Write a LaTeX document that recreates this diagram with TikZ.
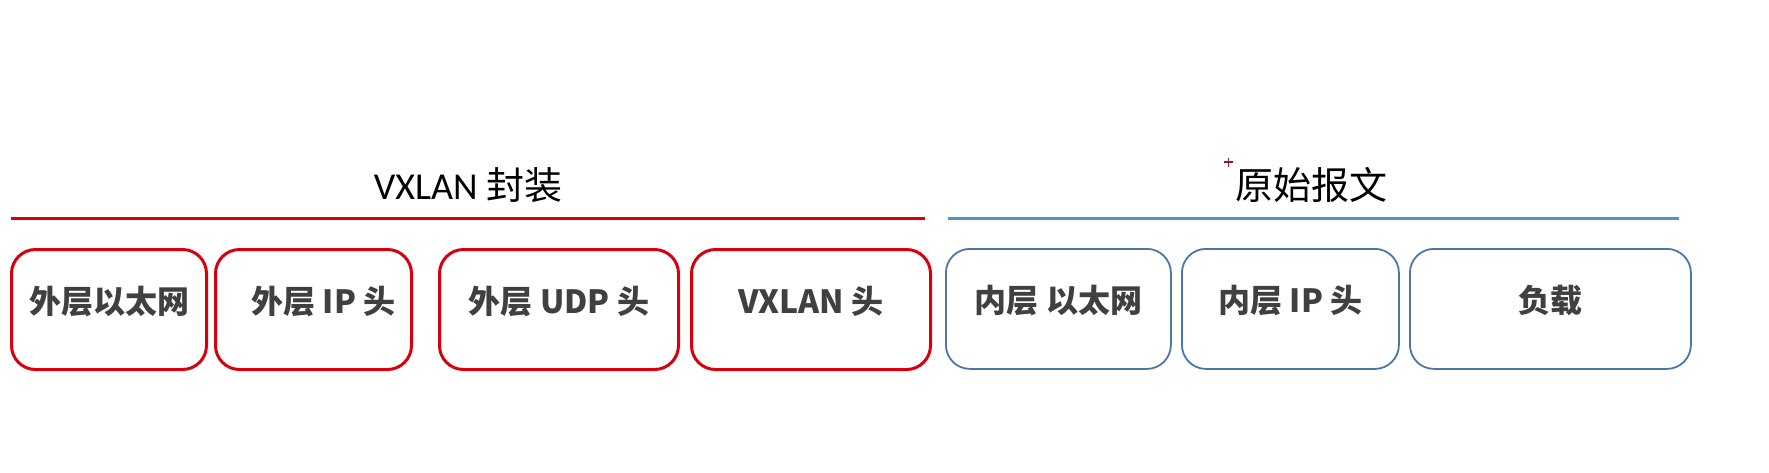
\documentclass[tikz,border=0pt]{standalone}
\usepackage{fontspec}
\setmainfont{Carlito}
\newfontfamily\cjk{Noto Sans CJK SC}
\definecolor{vred}{HTML}{D9000D}
\definecolor{lblue}{HTML}{4F94C2}
\definecolor{bblue}{HTML}{4A76A8}
\definecolor{txt}{HTML}{404040}
\definecolor{plusmark}{HTML}{8B1A3A}
\tikzset{
  pktbox/.style={rounded corners=24pt, minimum height=120pt, inner sep=0pt,
    text height=24pt, text depth=16pt,
    font=\cjk\bfseries\fontsize{32}{36}\selectfont, text=txt, anchor=north west},
  redbox/.style={pktbox, draw=vred, line width=3pt},
  bluebox/.style={pktbox, draw=bblue, line width=1.8pt},
  ttl/.style={font=\fontsize{38}{42}\selectfont, text=black, inner sep=0pt}
}
\begin{document}
\begin{tikzpicture}[x=1pt,y=-1pt]
\useasboundingbox (0,0) rectangle (1769,472);
% titles
\node[ttl] (t1) at (468,185) {VXLAN {\cjk 封装}};
\node[ttl] (t2) at (1311,185) {\cjk 原始报文};
% marker
\draw[plusmark, line width=1.4pt] (1224,162) -- (1233,162) (1228.5,157.5) -- (1228.5,166.5);
% lines
\coordinate (r1) at (11,218);
\coordinate (r2) at (925,218);
\coordinate (b1) at (948,218);
\coordinate (b2) at (1679,218);
\draw[vred, line width=3pt] (r1) -- (r2);
\draw[lblue, line width=3pt] (b1) -- (b2);
% boxes
\node[redbox, minimum width=195pt] (n1) at (10,248) {外层以太网};
\node[redbox, minimum width=196pt] (n2) at (214,248) {\hspace*{20pt}外层 IP 头};
\node[redbox, minimum width=239pt] (n3) at (438,248) {外层 UDP 头};
\node[redbox, minimum width=239pt] (n4) at (690,248) {VXLAN 头};
\node[bluebox, minimum width=225pt] (n5) at (945,248) {内层 以太网};
\node[bluebox, minimum width=217pt] (n6) at (1181,248) {内层 IP 头};
\node[bluebox, minimum width=281pt] (n7) at (1409,248) {负载};
\end{tikzpicture}
\end{document}
